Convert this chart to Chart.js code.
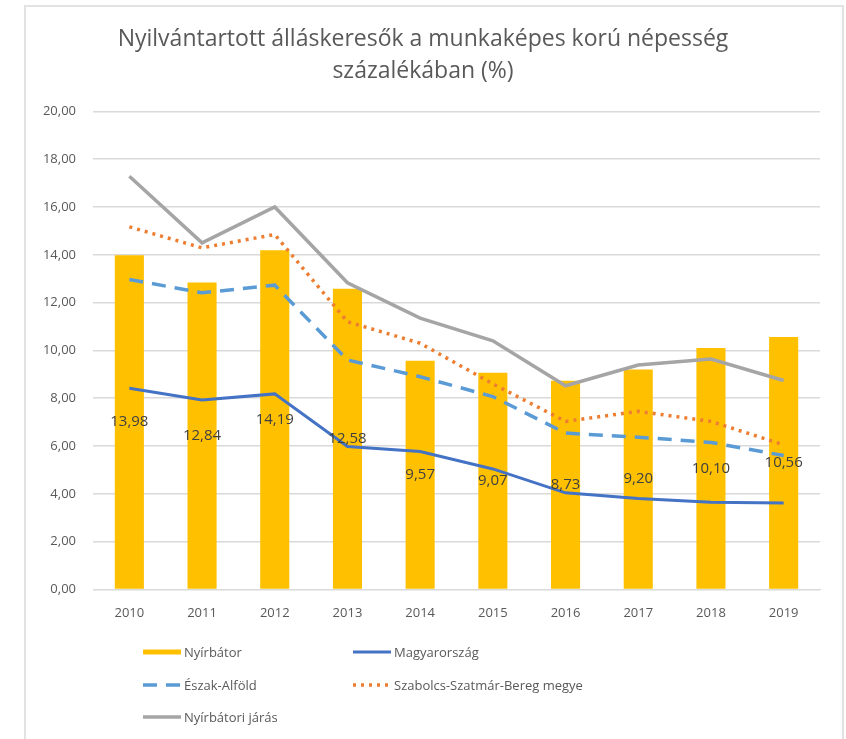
<!DOCTYPE html>
<html>
<head>
<meta charset="utf-8">
<script src="https://cdn.jsdelivr.net/npm/chart.js@4"></script>
<style>
  body { margin: 0; background: #fff; font-family: "Open Sans", sans-serif; }
  .frame {
    position: absolute; left: 24px; top: 5px; width: 816px; height: 740px;
    border: 2px solid #e2e2e2; border-bottom: none; background: #fff;
  }
  .chart-box { position: absolute; left: 0; top: 0; width: 814px; height: 630px; }
  .legend {
    position: absolute; left: 117px; top: 629px;
    display: grid; grid-template-columns: 210px 300px; grid-auto-rows: 32.5px;
    font-size: 13px; color: #595959;
  }
  .legend__item { display: flex; align-items: center; gap: 3px; }
  .legend__item canvas { display: block; }
</style>
</head>
<body>
<div class="frame">
  <div class="chart-box"><canvas id="chart"></canvas></div>
  <div class="legend" id="legend"></div>
</div>
<script>
// Nyilvántartott álláskeresők a munkaképes korú népesség százalékában (%)
const years = ['2010', '2011', '2012', '2013', '2014', '2015', '2016', '2017', '2018', '2019'];

const nyirbator = [13.98, 12.84, 14.19, 12.58, 9.57, 9.07, 8.73, 9.20, 10.10, 10.56];
const magyarorszag = [8.42, 7.93, 8.18, 5.98, 5.77, 5.04, 4.04, 3.80, 3.65, 3.62];
const eszakAlfold = [12.97, 12.41, 12.73, 9.60, 8.90, 8.07, 6.54, 6.37, 6.15, 5.60];
const szabolcs = [15.17, 14.29, 14.85, 11.20, 10.30, 8.60, 7.03, 7.45, 7.03, 6.05];
const jaras = [17.29, 14.50, 16.00, 12.83, 11.35, 10.40, 8.52, 9.39, 9.64, 8.74];

const yTicks = { min: 0, max: 20, step: 2 };

const textColor = '#595959';
const gridColor = '#d9d9d9';
const fmt = v => Number(v).toFixed(2).replace('.', ',');

// bar value labels, centred in the bar like Excel's "center" option
const barLabels = {
  id: 'barLabels',
  afterDatasetsDraw(chart) {
    const ctx = chart.ctx;
    const meta = chart.getDatasetMeta(0);
    ctx.save();
    ctx.font = '15px "Open Sans", sans-serif';
    ctx.fillStyle = '#404040';
    ctx.textAlign = 'center';
    ctx.textBaseline = 'middle';
    meta.data.forEach((bar, i) => {
      const y = (bar.y + bar.base) / 2;
      ctx.fillText(fmt(chart.data.datasets[0].data[i]), bar.x, y);
    });
    ctx.restore();
  }
};

const chart = new Chart(document.getElementById('chart'), {
  type: 'bar',
  data: {
    labels: years,
    datasets: [
      {
        type: 'bar', label: 'Nyírbátor', data: nyirbator,
        backgroundColor: '#FFC000', borderWidth: 0,
        barPercentage: 0.4, categoryPercentage: 1, order: 5
      },
      {
        type: 'line', label: 'Magyarország', data: magyarorszag,
        borderColor: '#4472C4', borderWidth: 3, pointRadius: 0, order: 1
      },
      {
        type: 'line', label: 'Észak-Alföld', data: eszakAlfold,
        borderColor: '#5B9BD5', borderWidth: 3.5, borderDash: [14, 9], pointRadius: 0, order: 2
      },
      {
        type: 'line', label: 'Szabolcs-Szatmár-Bereg megye', data: szabolcs,
        borderColor: '#ED7D31', borderWidth: 3.5, borderDash: [3, 5], pointRadius: 0, order: 3
      },
      {
        type: 'line', label: 'Nyírbátori járás', data: jaras,
        borderColor: '#A5A5A5', borderWidth: 3.5, pointRadius: 0, order: 4
      }
    ]
  },
  options: {
    responsive: true,
    maintainAspectRatio: false,
    animation: false,
    layout: { padding: { left: 0, right: 20, top: 0, bottom: 0 } },
    plugins: {
      legend: { display: false },
      tooltip: { enabled: false },
      title: {
        display: true,
        text: ['Nyilvántartott álláskeresők a munkaképes korú népesség', 'százalékában (%)'],
        color: textColor,
        font: { family: '"Open Sans", sans-serif', size: 23, weight: 'normal', lineHeight: 1.4 },
        padding: { top: 16, bottom: 24 }
      }
    },
    scales: {
      x: {
        grid: { display: false, drawTicks: false },
        border: { color: gridColor },
        ticks: { color: textColor, padding: 16, font: { family: '"Open Sans", sans-serif', size: 13 } }
      },
      y: {
        min: yTicks.min, max: yTicks.max,
        afterFit(scale) { scale.width = 67; },
        grid: { color: gridColor, lineWidth: 1.5, drawTicks: false },
        border: { display: false },
        ticks: {
          stepSize: yTicks.step, color: textColor, padding: 17,
          font: { family: '"Open Sans", sans-serif', size: 13 },
          callback: v => fmt(v)
        }
      }
    }
  },
  plugins: [barLabels]
});

// legend: two columns, samples drawn with each dataset's own stroke
const legendEl = document.getElementById('legend');
chart.data.datasets.forEach(ds => {
  const item = document.createElement('div');
  item.className = 'legend__item';
  const sample = document.createElement('canvas');
  sample.width = 38; sample.height = 8;
  const c = sample.getContext('2d');
  c.strokeStyle = ds.type === 'bar' ? ds.backgroundColor : ds.borderColor;
  c.lineWidth = ds.type === 'bar' ? 5 : ds.borderWidth;
  c.setLineDash(ds.borderDash || []);
  c.beginPath(); c.moveTo(0, 4); c.lineTo(38, 4); c.stroke();
  const label = document.createElement('span');
  label.textContent = ds.label;
  item.appendChild(sample);
  item.appendChild(label);
  legendEl.appendChild(item);
});
</script>
</body>
</html>
